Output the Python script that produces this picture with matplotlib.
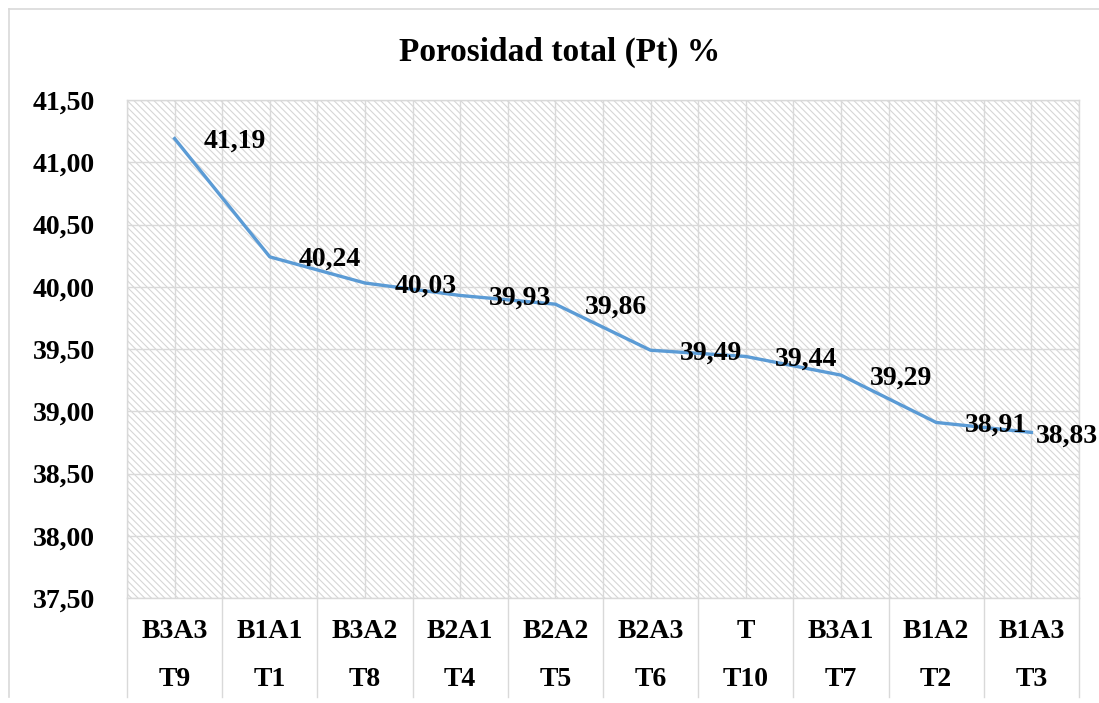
import matplotlib
matplotlib.use("Agg")
import matplotlib.pyplot as plt
from matplotlib.patches import Rectangle
from matplotlib.lines import Line2D
import numpy as np

# datos
row1 = ["B3A3", "B1A1", "B3A2", "B2A1", "B2A2", "B2A3", "T", "B3A1", "B1A2", "B1A3"]
row2 = ["T9", "T1", "T8", "T4", "T5", "T6", "T10", "T7", "T2", "T3"]
pt = [41.19, 40.24, 40.03, 39.93, 39.86, 39.49, 39.44, 39.29, 38.91, 38.83]
yticks = [37.5, 38.0, 38.5, 39.0, 39.5, 40.0, 40.5, 41.0, 41.5]

plt.rcParams["font.family"] = ["Liberation Serif", "DejaVu Serif"]
plt.rcParams["font.weight"] = "bold"
plt.rcParams["hatch.linewidth"] = 0.8

GRID = "#d9d9d9"
W, H = 1099, 703
fig = plt.figure(figsize=(W / 100, H / 100), dpi=100)
ax = fig.add_axes([127 / W, 1 - 598 / H, (1079 - 127) / W, (598 - 100) / H])

n = len(pt)
x = np.arange(n)
ax.set_xlim(-0.5, n - 0.5)
ax.set_ylim(37.5, 41.5)

# fondo rayado
ax.add_patch(Rectangle((0, 0), 1, 1, transform=ax.transAxes, facecolor="white",
                       edgecolor="#d6d6d6", lw=0, hatch="\\\\\\\\\\", zorder=0))

for yv in yticks:
    ax.axhline(yv, color=GRID, lw=1.0, zorder=1)
for xv in np.arange(-0.5, n, 0.5):
    ax.axvline(xv, color=GRID, lw=1.0, zorder=1)

ax.plot(x, pt, color="#5B9BD5", lw=2.4, zorder=3, solid_joinstyle="round")

for i, (xi, v) in enumerate(zip(x, pt)):
    # la ultima etiqueta se pega al punto para no salirse del grafico
    off = (21, -2) if i < n - 1 else (3, -3)
    ax.annotate(f"{v:.2f}".replace(".", ","), (xi, v), xytext=off,
                textcoords="offset points", ha="left", va="center",
                fontsize=20, fontweight="bold", zorder=4, annotation_clip=False)

ax.set_yticks(yticks)
ax.set_yticklabels([f"{v:.2f}".replace(".", ",") for v in yticks], fontsize=20, fontweight="bold")
ax.tick_params(axis="y", length=0, pad=23)
ax.set_xticks([])
for s in ["top", "right", "left", "bottom"]:
    ax.spines[s].set_color(GRID)
    ax.spines[s].set_linewidth(1.0)

# tabla de categorias bajo el eje
y_bot = 1 - 697 / H
y_ax = 1 - 598 / H
for k in range(n + 1):
    xf = (127 + k * (1079 - 127) / n) / W
    fig.add_artist(Line2D([xf, xf], [y_bot, y_ax], color=GRID, lw=1.0))
for k in range(n):
    xf = (127 + (k + 0.5) * (1079 - 127) / n) / W
    fig.text(xf, 1 - 632 / H, row1[k], ha="center", va="center", fontsize=20, fontweight="bold")
    fig.text(xf, 1 - 679 / H, row2[k], ha="center", va="center", fontsize=20, fontweight="bold")

# borde del grafico
fig.add_artist(Line2D([9 / W, 9 / W], [y_bot, 1 - 9 / H], color=GRID, lw=1.2))
fig.add_artist(Line2D([9 / W, 1.0], [1 - 9 / H, 1 - 9 / H], color=GRID, lw=1.2))

fig.text(560 / W, 1 - 52 / H, "Porosidad total (Pt) %", ha="center", va="center",
         fontsize=24, fontweight="bold")

fig.savefig("out.png", dpi=100)
